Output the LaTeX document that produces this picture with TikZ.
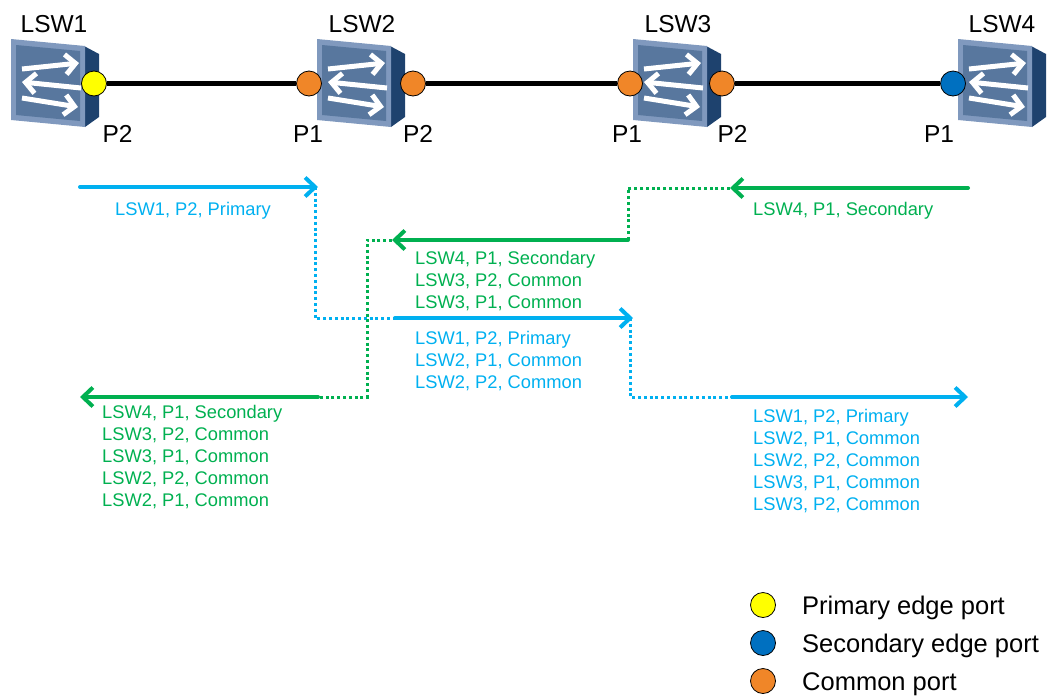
\documentclass[tikz,border=0pt]{standalone}
\usepackage{fontspec}
\setmainfont{Liberation Sans}
\usetikzlibrary{arrows.meta}
\definecolor{fblue}{RGB}{0,176,240}
\definecolor{fgreen}{RGB}{0,176,80}
\definecolor{porange}{RGB}{240,134,40}
\definecolor{pblue}{RGB}{0,112,192}
\definecolor{pyellow}{RGB}{255,255,0}
\definecolor{swface}{RGB}{88,119,158}
\definecolor{swbevel}{RGB}{128,153,190}
\definecolor{swside}{RGB}{30,66,110}
\tikzset{
  swarrow/.style={white, line width=5pt, -{Straight Barb[length=10pt,width=20pt,line width=5pt]}},
  switchicon/.pic={
    \fill[swside] (29,-37) -- (44,-29) -- (44,34) -- (30,44) -- cycle;
    \fill[swbevel] (-44,-44) -- (30,-37) -- (30,44) -- (-44,37) -- cycle;
    \fill[swface] (-39,-38) -- (25,-32) -- (25,38) -- (-39,32) -- cycle;
    \draw[swarrow] (-33,-14) -- (24,-20);
    \draw[swarrow] (26,5) -- (-33,-1);
    \draw[swarrow] (-33,15) -- (23,24);
  },
  port/.style={circle, draw=black, line width=0.8pt, minimum size=25pt, inner sep=0pt},
  biglabel/.style={font=\fontsize{24.5}{28}\selectfont, inner sep=0pt, anchor=base},
  legtext/.style={font=\fontsize{25.5}{28}\selectfont, inner sep=0pt, anchor=base west},
  ftext/.style={font=\fontsize{18.3}{22}\selectfont, inner sep=0pt, anchor=north west, align=left, text=#1},
  link/.style={black, line width=5.5pt},
  flowsolid/.style={#1, line width=4pt, line cap=round, -{Straight Barb[length=10pt,width=19pt,line width=4pt]}},
  flowdot/.style={#1, line width=3pt, dash pattern=on 3pt off 2.8pt},
}
\begin{document}
\begin{tikzpicture}[x=1pt,y=-1pt]
\path[use as bounding box] (0,0) rectangle (1049,697);

% switches
\pic at (55,83) {switchicon};
\pic at (361,83) {switchicon};
\pic at (677,83) {switchicon};
\pic at (1002,83) {switchicon};

\node[biglabel] (l1) at (54,32) {LSW1};
\node[biglabel] (l2) at (362,32) {LSW2};
\node[biglabel] (l3) at (678,32) {LSW3};
\node[biglabel] (l4) at (1002,32) {LSW4};

% ports
\node[port, fill=pyellow] (p12) at (94,83.5) {};
\node[port, fill=porange] (p21) at (309,83.5) {};
\node[port, fill=porange] (p22) at (413,83.5) {};
\node[port, fill=porange] (p31) at (630,83.5) {};
\node[port, fill=porange] (p32) at (722,83.5) {};
\node[port, fill=pblue] (p41) at (953,83.5) {};

\draw[link] (p12) -- (p21);
\draw[link] (p22) -- (p31);
\draw[link] (p32) -- (p41);

\node[biglabel] (n12) at (117.5,142) {P2};
\node[biglabel] (n21) at (308,142) {P1};
\node[biglabel] (n22) at (418,142) {P2};
\node[biglabel] (n31) at (627,142) {P1};
\node[biglabel] (n32) at (732.5,142) {P2};
\node[biglabel] (n41) at (939,142) {P1};

% blue flow
\coordinate (b0) at (80,187);
\coordinate (b1) at (318,187);
\coordinate (b1c) at (315,187);
\coordinate (b2) at (315,318);
\coordinate (b3) at (395,318);
\coordinate (b4) at (633,318);
\coordinate (b4c) at (630,318);
\coordinate (b5) at (630,397);
\coordinate (b6) at (732,397);
\coordinate (b7) at (968,397);
\draw[flowsolid=fblue] (b0) -- (b1);
\draw[flowdot=fblue] (b1c) -- (b2) -- (b3);
\draw[flowsolid=fblue] (b3) -- (b4);
\draw[flowdot=fblue] (b4c) -- (b5) -- (b6);
\draw[flowsolid=fblue] (b6) -- (b7);

% green flow
\coordinate (g0) at (968,188);
\coordinate (g1) at (730,188);
\coordinate (g2) at (628,188);
\coordinate (g3) at (628,240);
\coordinate (g4) at (392,240);
\coordinate (g5) at (367,240);
\coordinate (g6) at (367,397);
\coordinate (g7) at (318,397);
\coordinate (g8) at (80,397);
\draw[flowsolid=fgreen] (g0) -- (g1);
\draw[flowdot=fgreen] (g1) -- (g2) -- (g3);
\draw[flowsolid=fgreen] (g3) -- (g4);
\draw[flowdot=fgreen] (g4) -- (g5) -- (g6) -- (g7);
\draw[flowsolid=fgreen] (g7) -- (g8);

% flow texts
\node[ftext=fblue] (tb1) at (115,202) {LSW1, P2, Primary};
\node[ftext=fgreen] (tg1) at (753,202) {LSW4, P1, Secondary};
\node[ftext=fgreen] (tg2) at (415,251) {LSW4, P1, Secondary\\LSW3, P2, Common\\LSW3, P1, Common};
\node[ftext=fblue] (tb2) at (415,331) {LSW1, P2, Primary\\LSW2, P1, Common\\LSW2, P2, Common};
\node[ftext=fgreen] (tg3) at (102,405) {LSW4, P1, Secondary\\LSW3, P2, Common\\LSW3, P1, Common\\LSW2, P2, Common\\LSW2, P1, Common};
\node[ftext=fblue] (tb3) at (753,409) {LSW1, P2, Primary\\LSW2, P1, Common\\LSW2, P2, Common\\LSW3, P1, Common\\LSW3, P2, Common};

% legend
\node[port, fill=pyellow] (k1) at (763,605) {};
\node[port, fill=pblue] (k2) at (763,643) {};
\node[port, fill=porange] (k3) at (763,681) {};
\node[legtext] (kt1) at (802,614) {Primary edge port};
\node[legtext] (kt2) at (802,652) {Secondary edge port};
\node[legtext] (kt3) at (802,690) {Common port};
\end{tikzpicture}
\end{document}
